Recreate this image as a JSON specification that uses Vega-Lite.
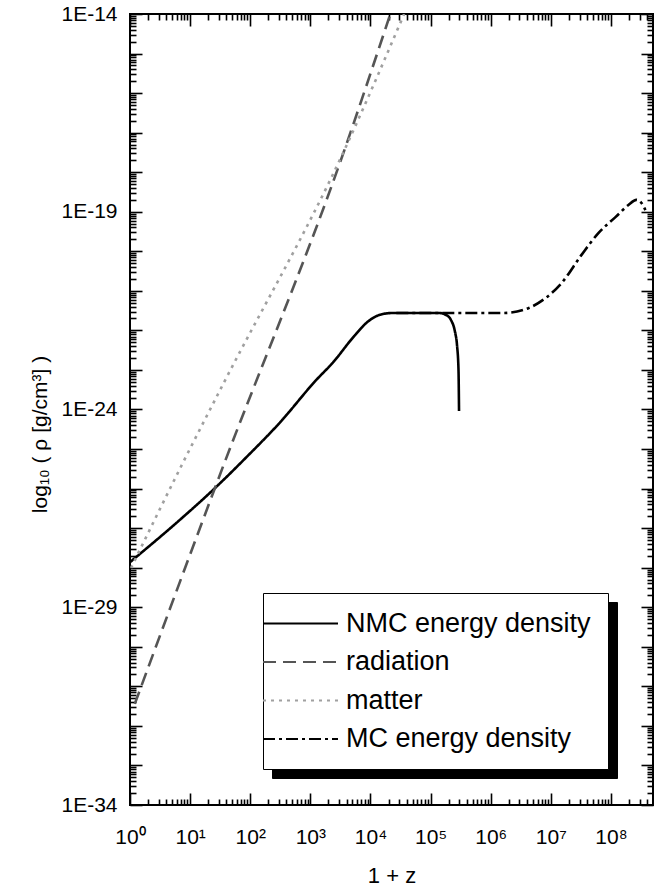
{
  "$schema": "https://vega.github.io/schema/vega-lite/v6.json",
  "autosize": {"type": "none"},
  "padding": {"left": 130, "top": 14, "right": 19, "bottom": 87},
  "width": 523,
  "height": 791,
  "background": "white",
  "config": {
    "font": "Liberation Sans",
    "view": {"stroke": "black", "strokeWidth": 2},
    "axis": {
      "grid": false,
      "domain": false,
      "tickColor": "black",
      "tickWidth": 1.6,
      "labelFont": "Liberation Sans",
      "labelColor": "black",
      "labelFontSize": 21,
      "titleFont": "Liberation Sans",
      "titleFontWeight": "normal",
      "titleColor": "black",
      "labelFlush": false,
      "labelOverlap": false
    }
  },
  "data": {
    "values": [
      {"series": "NMC energy density", "x": 1, "y": 1.38e-28},
      {"series": "NMC energy density", "x": 6.75, "y": 1.62e-27},
      {"series": "NMC energy density", "x": 23.8, "y": 9.12e-27},
      {"series": "NMC energy density", "x": 87.1, "y": 6.31e-26},
      {"series": "NMC energy density", "x": 307, "y": 4.57e-25},
      {"series": "NMC energy density", "x": 1259, "y": 5.62e-24},
      {"series": "NMC energy density", "x": 2344, "y": 1.51e-23},
      {"series": "NMC energy density", "x": 5383, "y": 7.24e-23},
      {"series": "NMC energy density", "x": 8851, "y": 1.62e-22},
      {"series": "NMC energy density", "x": 14000, "y": 2.45e-22},
      {"series": "NMC energy density", "x": 22900, "y": 2.75e-22},
      {"series": "NMC energy density", "x": 138400, "y": 2.75e-22},
      {"series": "NMC energy density", "x": 180700, "y": 2.45e-22},
      {"series": "NMC energy density", "x": 218800, "y": 1.82e-22},
      {"series": "NMC energy density", "x": 254700, "y": 9.1e-23},
      {"series": "NMC energy density", "x": 274800, "y": 4.27e-23},
      {"series": "NMC energy density", "x": 291000, "y": 1e-23},
      {"series": "NMC energy density", "x": 297000, "y": 9.1e-25},
      {"series": "radiation", "x": 1.2, "y": 3.6e-32},
      {"series": "radiation", "x": 29.9, "y": 1.86e-26},
      {"series": "radiation", "x": 3681, "y": 3.63e-18},
      {"series": "radiation", "x": 21380, "y": 1e-14},
      {"series": "matter", "x": 1.04, "y": 9.8e-29},
      {"series": "matter", "x": 7.57, "y": 4.47e-26},
      {"series": "matter", "x": 34.8, "y": 4.17e-24},
      {"series": "matter", "x": 3681, "y": 3.63e-18},
      {"series": "matter", "x": 36300, "y": 1e-14},
      {"series": "MC energy density", "x": 26900, "y": 2.75e-22},
      {"series": "MC energy density", "x": 832000, "y": 2.75e-22},
      {"series": "MC energy density", "x": 1600000, "y": 2.75e-22},
      {"series": "MC energy density", "x": 4300000, "y": 3.7e-22},
      {"series": "MC energy density", "x": 8200000, "y": 6.6e-22},
      {"series": "MC energy density", "x": 15100000, "y": 1.58e-21},
      {"series": "MC energy density", "x": 32400000, "y": 8.13e-21},
      {"series": "MC energy density", "x": 61700000, "y": 2.88e-20},
      {"series": "MC energy density", "x": 120000000, "y": 7.41e-20},
      {"series": "MC energy density", "x": 195000000, "y": 1.48e-19},
      {"series": "MC energy density", "x": 265000000, "y": 2.0e-19},
      {"series": "MC energy density", "x": 322000000, "y": 1.66e-19},
      {"series": "MC energy density", "x": 374000000, "y": 1.1e-19}
    ]
  },
  "resolve": {"axis": {"x": "independent", "y": "independent"}},
  "layer": [
    {
      "mark": {"type": "line", "strokeWidth": 2.6, "clip": true, "interpolate": "monotone"},
      "encoding": {
        "x": {
          "field": "x", "type": "quantitative",
          "scale": {"type": "log", "domain": [1, 500000000], "nice": false},
          "axis": {
            "orient": "bottom",
            "values": [1, 10, 100, 1000, 10000, 100000, 1000000, 10000000, 100000000],
            "tickSize": 12, "offset": -12, "labelPadding": 21,
            "labelExpr": "'10' + ['⁰','¹','²','³','⁴','⁵','⁶','⁷','⁸','⁹'][round(log(datum.value)/LN10)]",
            "title": "1 + z", "titleFontSize": 22, "titlePadding": 18
          }
        },
        "y": {
          "field": "y", "type": "quantitative",
          "scale": {"type": "log", "domain": [1e-34, 1e-14], "nice": false},
          "axis": {
            "orient": "left",
            "values": [1e-34, 1e-33, 1e-32, 1e-31, 1e-30, 1e-29, 1e-28, 1e-27, 1e-26, 1e-25, 1e-24, 1e-23, 1e-22, 1e-21, 1e-20, 1e-19, 1e-18, 1e-17, 1e-16, 1e-15, 1e-14],
            "tickSize": 12, "offset": -12, "labelPadding": 13,
            "labelExpr": "(round(log(datum.value)/LN10)+34)%5==0 ? '1E' + round(log(datum.value)/LN10) : ''",
            "title": "log₁₀ ( ρ [g/cm³] )", "titleFontSize": 21, "titlePadding": 10, "titleY": 420
          }
        },
        "color": {
          "field": "series", "type": "nominal",
          "scale": {"domain": ["NMC energy density", "radiation", "matter", "MC energy density"], "range": ["#000000", "#555555", "#a0a0a0", "#000000"]},
          "legend": {"orient": "none", "legendX": 133, "legendY": 579, "title": null, "symbolType": "M-3,0H3", "symbolSize": 625, "symbolStrokeWidth": 2, "labelFontSize": 27, "labelFont": "Liberation Sans", "labelColor": "black", "labelLimit": 500, "labelExpr": "datum.label + '\u00a0\u00a0\u00a0\u00a0\u00a0\u00a0'", "padding": 17, "rowPadding": 10.5, "fillColor": "white", "strokeColor": "black", "labelOffset": 32, "symbolOffset": 7, "zindex": 2}
        },
        "strokeDash": {
          "field": "series", "type": "nominal",
          "scale": {"domain": ["NMC energy density", "radiation", "matter", "MC energy density"], "range": [[1, 0], [13, 7], [3, 5], [12, 4, 3, 4]]},
          "legend": {"orient": "none", "legendX": 133, "legendY": 579, "title": null, "symbolType": "M-3,0H3", "symbolSize": 625, "symbolStrokeWidth": 2, "labelFontSize": 27, "labelFont": "Liberation Sans", "labelColor": "black", "labelLimit": 500, "labelExpr": "datum.label + '\u00a0\u00a0\u00a0\u00a0\u00a0\u00a0'", "padding": 17, "rowPadding": 10.5, "fillColor": "white", "strokeColor": "black", "labelOffset": 32, "symbolOffset": 7, "zindex": 2}
        }
      }
    },
    {
      "mark": {"type": "point", "opacity": 0},
      "encoding": {
        "x": {
          "field": "x", "type": "quantitative",
          "scale": {"type": "log", "domain": [1, 500000000], "nice": false},
          "axis": {
            "orient": "bottom", "labels": false, "title": null, "tickSize": 6, "offset": -6,
            "values": [2,3,4,5,6,7,8,9,20,30,40,50,60,70,80,90,200,300,400,500,600,700,800,900,2000,3000,4000,5000,6000,7000,8000,9000,20000,30000,40000,50000,60000,70000,80000,90000,200000,300000,400000,500000,600000,700000,800000,900000,2000000,3000000,4000000,5000000,6000000,7000000,8000000,9000000,20000000,30000000,40000000,50000000,60000000,70000000,80000000,90000000,200000000,300000000,400000000]
          }
        },
        "y": {
          "field": "y", "type": "quantitative",
          "scale": {"type": "log", "domain": [1e-34, 1e-14], "nice": false},
          "axis": {
            "orient": "left", "labels": false, "title": null, "tickSize": 6, "offset": -6,
            "values": [2e-34,3e-34,4e-34,5e-34,6e-34,7e-34,8e-34,9e-34,2e-33,3e-33,4e-33,5e-33,6e-33,7e-33,8e-33,9e-33,2e-32,3e-32,4e-32,5e-32,6e-32,7e-32,8e-32,9e-32,2e-31,3e-31,4e-31,5e-31,6e-31,7e-31,8e-31,9e-31,2e-30,3e-30,4e-30,5e-30,6e-30,7e-30,8e-30,9e-30,2e-29,3e-29,4e-29,5e-29,6e-29,7e-29,8e-29,9e-29,2e-28,3e-28,4e-28,5e-28,6e-28,7e-28,8e-28,9e-28,2e-27,3e-27,4e-27,5e-27,6e-27,7e-27,8e-27,9e-27,2e-26,3e-26,4e-26,5e-26,6e-26,7e-26,8e-26,9e-26,2e-25,3e-25,4e-25,5e-25,6e-25,7e-25,8e-25,9e-25,2e-24,3e-24,4e-24,5e-24,6e-24,7e-24,8e-24,9e-24,2e-23,3e-23,4e-23,5e-23,6e-23,7e-23,8e-23,9e-23,2e-22,3e-22,4e-22,5e-22,6e-22,7e-22,8e-22,9e-22,2e-21,3e-21,4e-21,5e-21,6e-21,7e-21,8e-21,9e-21,2e-20,3e-20,4e-20,5e-20,6e-20,7e-20,8e-20,9e-20,2e-19,3e-19,4e-19,5e-19,6e-19,7e-19,8e-19,9e-19,2e-18,3e-18,4e-18,5e-18,6e-18,7e-18,8e-18,9e-18,2e-17,3e-17,4e-17,5e-17,6e-17,7e-17,8e-17,9e-17,2e-16,3e-16,4e-16,5e-16,6e-16,7e-16,8e-16,9e-16,2e-15,3e-15,4e-15,5e-15,6e-15,7e-15,8e-15,9e-15]
          }
        },
        "shape": {
          "field": "series", "type": "nominal",
          "scale": {"domain": ["MC energy density", "matter", "radiation", "NMC energy density"], "range": ["M-3,0H3", "M-3,0H3", "M-3,0H3", "M-3,0H3"]},
          "legend": {"orient": "none", "legendX": 142, "legendY": 588, "title": null, "symbolSize": 625, "symbolStrokeWidth": 2, "labelFontSize": 27, "labelFont": "Liberation Sans", "labelColor": "black", "labelOpacity": 0, "labelLimit": 500, "labelExpr": "datum.label + '\u00a0\u00a0\u00a0\u00a0\u00a0\u00a0'", "padding": 17, "rowPadding": 10.5, "fillColor": "black", "strokeColor": "black", "labelOffset": 32, "symbolOffset": 7, "zindex": 1}
        }
      }
    },
    {
      "mark": {"type": "point", "opacity": 0},
      "encoding": {
        "x": {
          "field": "x", "type": "quantitative",
          "scale": {"type": "log", "domain": [1, 500000000], "nice": false},
          "axis": {
            "orient": "top", "labels": false, "title": null, "tickSize": 12, "offset": -12,
            "values": [1, 10, 100, 1000, 10000, 100000, 1000000, 10000000, 100000000]
          }
        },
        "y": {
          "field": "y", "type": "quantitative",
          "scale": {"type": "log", "domain": [1e-34, 1e-14], "nice": false},
          "axis": {
            "orient": "right", "labels": false, "title": null, "tickSize": 12, "offset": -12,
            "values": [1e-34, 1e-33, 1e-32, 1e-31, 1e-30, 1e-29, 1e-28, 1e-27, 1e-26, 1e-25, 1e-24, 1e-23, 1e-22, 1e-21, 1e-20, 1e-19, 1e-18, 1e-17, 1e-16, 1e-15, 1e-14]
          }
        }
      }
    },
    {
      "mark": {"type": "point", "opacity": 0},
      "encoding": {
        "x": {
          "field": "x", "type": "quantitative",
          "scale": {"type": "log", "domain": [1, 500000000], "nice": false},
          "axis": {
            "orient": "top", "labels": false, "title": null, "tickSize": 6, "offset": -6,
            "values": [2,3,4,5,6,7,8,9,20,30,40,50,60,70,80,90,200,300,400,500,600,700,800,900,2000,3000,4000,5000,6000,7000,8000,9000,20000,30000,40000,50000,60000,70000,80000,90000,200000,300000,400000,500000,600000,700000,800000,900000,2000000,3000000,4000000,5000000,6000000,7000000,8000000,9000000,20000000,30000000,40000000,50000000,60000000,70000000,80000000,90000000,200000000,300000000,400000000]
          }
        },
        "y": {
          "field": "y", "type": "quantitative",
          "scale": {"type": "log", "domain": [1e-34, 1e-14], "nice": false},
          "axis": {
            "orient": "right", "labels": false, "title": null, "tickSize": 6, "offset": -6,
            "values": [2e-34,3e-34,4e-34,5e-34,6e-34,7e-34,8e-34,9e-34,2e-33,3e-33,4e-33,5e-33,6e-33,7e-33,8e-33,9e-33,2e-32,3e-32,4e-32,5e-32,6e-32,7e-32,8e-32,9e-32,2e-31,3e-31,4e-31,5e-31,6e-31,7e-31,8e-31,9e-31,2e-30,3e-30,4e-30,5e-30,6e-30,7e-30,8e-30,9e-30,2e-29,3e-29,4e-29,5e-29,6e-29,7e-29,8e-29,9e-29,2e-28,3e-28,4e-28,5e-28,6e-28,7e-28,8e-28,9e-28,2e-27,3e-27,4e-27,5e-27,6e-27,7e-27,8e-27,9e-27,2e-26,3e-26,4e-26,5e-26,6e-26,7e-26,8e-26,9e-26,2e-25,3e-25,4e-25,5e-25,6e-25,7e-25,8e-25,9e-25,2e-24,3e-24,4e-24,5e-24,6e-24,7e-24,8e-24,9e-24,2e-23,3e-23,4e-23,5e-23,6e-23,7e-23,8e-23,9e-23,2e-22,3e-22,4e-22,5e-22,6e-22,7e-22,8e-22,9e-22,2e-21,3e-21,4e-21,5e-21,6e-21,7e-21,8e-21,9e-21,2e-20,3e-20,4e-20,5e-20,6e-20,7e-20,8e-20,9e-20,2e-19,3e-19,4e-19,5e-19,6e-19,7e-19,8e-19,9e-19,2e-18,3e-18,4e-18,5e-18,6e-18,7e-18,8e-18,9e-18,2e-17,3e-17,4e-17,5e-17,6e-17,7e-17,8e-17,9e-17,2e-16,3e-16,4e-16,5e-16,6e-16,7e-16,8e-16,9e-16,2e-15,3e-15,4e-15,5e-15,6e-15,7e-15,8e-15,9e-15]
          }
        }
      }
    }
  ]
}
